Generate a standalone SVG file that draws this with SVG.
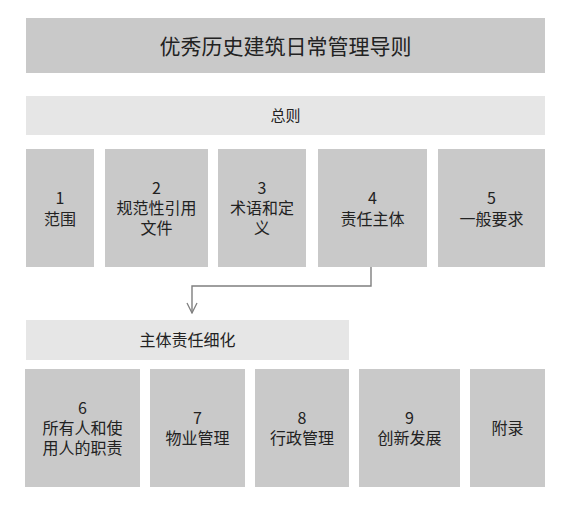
<svg xmlns="http://www.w3.org/2000/svg" width="576" height="507" viewBox="0 0 576 507">
<defs>
<style>
.dark{fill:#c9c9c9}
.light{fill:#e6e6e6}
text{font-family:"Noto Sans CJK SC","Noto Sans",sans-serif;fill:#222;text-anchor:middle}
.t16{font-size:16px}
.t15{font-size:15px}
.t21{font-size:21px}
.conn{fill:none;stroke:#7f7f7f;stroke-width:1.4}
</style>
<marker id="arr" viewBox="0 0 12 12" refX="11" refY="6" markerWidth="12" markerHeight="12" markerUnits="userSpaceOnUse" orient="auto">
<path d="M1,1 L11,6 L1,11" fill="none" stroke="#7f7f7f" stroke-width="1.3"/>
</marker>
</defs>
<rect width="576" height="507" fill="#fff"/>
<g id="title"><rect class="dark" x="26" y="18" width="519" height="55"/><text class="t21" x="285.5" y="53.5">优秀历史建筑日常管理导则</text></g>
<g id="general"><rect class="light" x="26" y="96" width="519" height="39"/><text class="t15" x="285.5" y="121">总则</text></g>
<g id="n1"><rect class="dark" x="26" y="149" width="68" height="118"/><text class="t16" x="60" y="204">1<tspan x="60" dy="21">范围</tspan></text></g>
<g id="n2"><rect class="dark" x="105" y="149" width="103" height="118"/><text class="t16" x="156.5" y="194">2<tspan x="156.5" dy="20">规范性引用</tspan><tspan x="156.5" dy="20">文件</tspan></text></g>
<g id="n3"><rect class="dark" x="218" y="149" width="88" height="118"/><text class="t16" x="262" y="194">3<tspan x="262" dy="20">术语和定</tspan><tspan x="262" dy="20">义</tspan></text></g>
<g id="n4"><rect class="dark" x="318" y="149" width="109" height="118"/><text class="t16" x="372.5" y="204">4<tspan x="372.5" dy="21">责任主体</tspan></text></g>
<g id="n5"><rect class="dark" x="438" y="149" width="107" height="118"/><text class="t16" x="491.5" y="204">5<tspan x="491.5" dy="21">一般要求</tspan></text></g>
<g id="detail"><rect class="light" x="26" y="320" width="323" height="40"/><text class="t16" x="187.5" y="346">主体责任细化</text></g>
<g id="n6"><rect class="dark" x="25" y="369" width="115" height="118"/><text class="t16" x="82.5" y="414">6<tspan x="82.5" dy="20">所有人和使</tspan><tspan x="82.5" dy="20">用人的职责</tspan></text></g>
<g id="n7"><rect class="dark" x="150" y="369" width="95" height="118"/><text class="t16" x="197.5" y="424">7<tspan x="197.5" dy="20">物业管理</tspan></text></g>
<g id="n8"><rect class="dark" x="255" y="369" width="94" height="118"/><text class="t16" x="302" y="424">8<tspan x="302" dy="20">行政管理</tspan></text></g>
<g id="n9"><rect class="dark" x="359" y="369" width="101" height="118"/><text class="t16" x="409.5" y="424">9<tspan x="409.5" dy="20">创新发展</tspan></text></g>
<g id="appendix"><rect class="dark" x="470" y="369" width="75" height="118"/><text class="t16" x="507.5" y="434">附录</text></g>
<g id="connectors"><path class="conn" d="M371,267 V286 H192 V313" marker-end="url(#arr)"/></g>
</svg>
